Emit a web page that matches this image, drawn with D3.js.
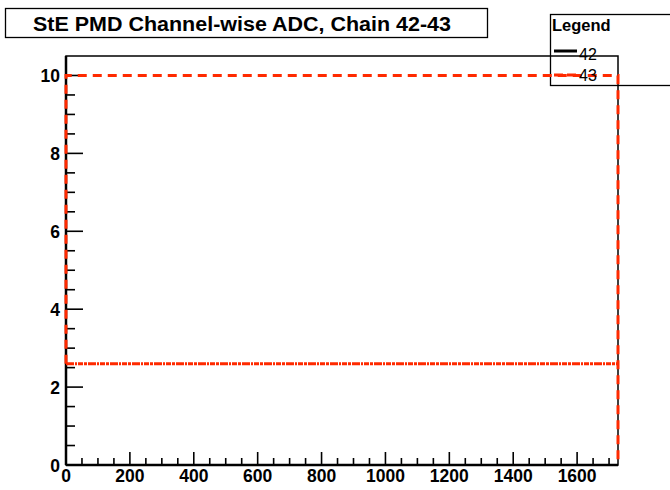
<!DOCTYPE html>
<html>
<head>
<meta charset="utf-8">
<script src="https://cdn.jsdelivr.net/npm/d3@7"></script>
<style>
html,body{margin:0;padding:0;background:#fff;}
svg{display:block;}
text{font-family:"Liberation Sans",Arial,Helvetica,sans-serif;}
</style>
</head>
<body>
<script>
// ---- data ----
const title = "StE PMD Channel-wise ADC, Chain 42-43";
const seriesNames = ["42", "43"];
const xDomain = [0, 1728];
const yDomain = [0, 10.5];
const xTickValues = [0, 200, 400, 600, 800, 1000, 1200, 1400, 1600];
const yTickValues = [0, 2, 4, 6, 8, 10];
// series 43 outline (channel, ADC)
const chain43X = [0, 0, 1728, 1728];
const chain43Y = [2.6, 10, 10, 0];
// flat level across all channels
const levelX = [0, 1728];
const levelY = [2.6, 2.6];

const W = 670, H = 490;
const red = "#ff2a00";
const svg = d3.select("body").append("svg").attr("width", W).attr("height", H);

const L = 66, R = 618, T = 56, B = 465;
const x = d3.scaleLinear().domain(xDomain).range([L, R]);
const y = d3.scaleLinear().domain(yDomain).range([B, T]);

// title box
svg.append("rect").attr("x", 5.5).attr("y", 8.5).attr("width", 482).attr("height", 29)
  .attr("fill", "#fff").attr("stroke", "#000").attr("stroke-width", 1.3);
svg.append("text").attr("x", 242).attr("y", 31).attr("text-anchor", "middle")
  .attr("font-size", 20).attr("font-weight", "bold")
  .attr("textLength", 418).attr("lengthAdjust", "spacingAndGlyphs").text(title);

// legend box (transparent)
svg.append("rect").attr("x", 550.5).attr("y", 14.5).attr("width", 130).attr("height", 71)
  .attr("fill", "none").attr("stroke", "#000").attr("stroke-width", 1.3);
svg.append("text").attr("x", 552).attr("y", 31).attr("font-size", 16.5).attr("font-weight", "bold").text("Legend");

// frame
svg.append("rect").attr("x", L).attr("y", T).attr("width", R - L).attr("height", B - T)
  .attr("fill", "none").attr("stroke", "#000").attr("stroke-width", 1.5);

// y axis ticks inside
const yMinor = d3.range(0, 10.01, 0.5);
svg.append("g").selectAll("line").data(yMinor).join("line")
  .attr("x1", L).attr("x2", d => L + (yTickValues.includes(d) ? 17 : 9))
  .attr("y1", d => y(d)).attr("y2", d => y(d))
  .attr("stroke", "#000").attr("stroke-width", 1.6);
svg.append("g").selectAll("text").data(yTickValues).join("text")
  .attr("x", 60).attr("y", d => y(d) + 6.5).attr("text-anchor", "end")
  .attr("font-size", 17.5).attr("font-weight", "bold").text(d => d);

// x axis ticks inside
const xMinor = d3.range(0, 1701, 50);
svg.append("g").selectAll("line").data(xMinor).join("line")
  .attr("y1", B).attr("y2", d => B - (d % 200 === 0 ? 13 : 7))
  .attr("x1", d => x(d)).attr("x2", d => x(d))
  .attr("stroke", "#000").attr("stroke-width", 1.6);
svg.append("g").selectAll("text").data(xTickValues).join("text")
  .attr("x", d => x(d)).attr("y", 482).attr("text-anchor", "middle")
  .attr("font-size", 17.5).attr("font-weight", "bold").text(d => d);

// axis lines thicker
svg.append("line").attr("x1", L).attr("x2", R).attr("y1", B).attr("y2", B).attr("stroke", "#000").attr("stroke-width", 2.5);
svg.append("line").attr("x1", L).attr("x2", L).attr("y1", T).attr("y2", B).attr("stroke", "#000").attr("stroke-width", 2.5);

const line = d3.line().x(d => x(d[0])).y(d => y(d[1]));

// level line (dense dash-dot)
svg.append("path").datum(levelX.map((v, i) => [v, levelY[i]]))
  .attr("d", line).attr("fill", "none").attr("stroke", red).attr("stroke-width", 3)
  .attr("stroke-dasharray", "8,1,2,1,5,1,3,1");

// series 43 outline
svg.append("path").datum(chain43X.map((v, i) => [v, chain43Y[i]]))
  .attr("d", line).attr("fill", "none").attr("stroke", red).attr("stroke-width", 3)
  .attr("stroke-dasharray", "9,6");

// legend entries
svg.append("line").attr("x1", 554).attr("x2", 577).attr("y1", 51).attr("y2", 51)
  .attr("stroke", "#000").attr("stroke-width", 3);
svg.append("text").attr("x", 579).attr("y", 60).attr("font-size", 16).text(seriesNames[0]);
svg.append("line").attr("x1", 554).attr("x2", 577).attr("y1", 75).attr("y2", 75)
  .attr("stroke", red).attr("stroke-width", 3).attr("stroke-dasharray", "9,4");
svg.append("text").attr("x", 579).attr("y", 81).attr("font-size", 16).text(seriesNames[1]);
</script>
</body>
</html>
